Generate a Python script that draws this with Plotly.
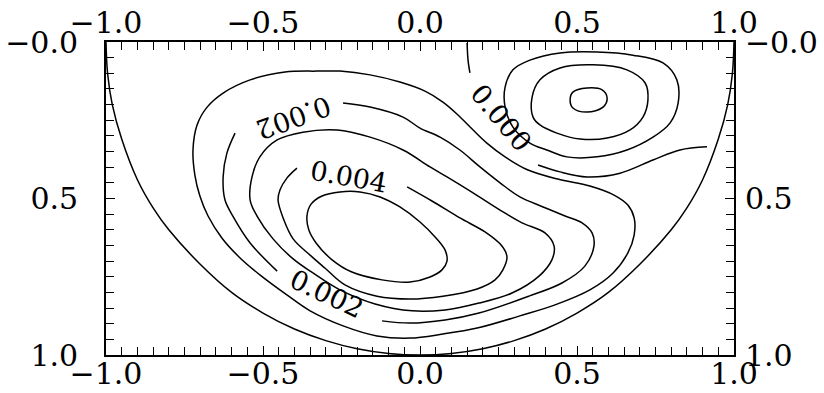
import plotly.graph_objects as go

# ---- traced contour lines (data units: x in [-1,1], depth y in [0,1]) ----
boundary_x = [-1.0, -0.995, -0.98, -0.95, -0.9, -0.85, -0.8, -0.7, -0.6, -0.5, -0.4, -0.3, -0.2, -0.1, 0.0,
              0.1, 0.2, 0.3, 0.4, 0.5, 0.6, 0.7, 0.8, 0.85, 0.9, 0.95, 0.98, 0.995, 1.0]
boundary_y = [0.0, 0.10, 0.20, 0.31, 0.44, 0.53, 0.60, 0.71, 0.80, 0.866, 0.917, 0.954, 0.980, 0.995, 1.0,
              0.995, 0.980, 0.954, 0.917, 0.866, 0.80, 0.71, 0.60, 0.53, 0.44, 0.31, 0.20, 0.10, 0.0]

# level 0.001 (closed)
c001_x = [-0.328, -0.255, -0.159, -0.064, 0.016, 0.073, 0.121, 0.166, 0.213, 0.271, 0.344, 0.439, 0.541, 0.618,
          0.662, 0.682, 0.682, 0.662, 0.615, 0.541, 0.430, 0.318, 0.182, 0.073, -0.032, -0.137, -0.245, -0.350,
          -0.424, -0.510, -0.573, -0.631, -0.675, -0.701, -0.717, -0.723, -0.710, -0.678, -0.627, -0.541, -0.430, -0.328]
c001_y = [0.093, 0.093, 0.105, 0.128, 0.157, 0.192, 0.233, 0.278, 0.323, 0.367, 0.409, 0.438, 0.460, 0.489,
          0.521, 0.562, 0.617, 0.674, 0.738, 0.792, 0.840, 0.875, 0.914, 0.933, 0.946, 0.939, 0.907, 0.859,
          0.808, 0.744, 0.690, 0.626, 0.556, 0.492, 0.425, 0.345, 0.265, 0.208, 0.163, 0.121, 0.096, 0.093]

# level 0.002 (two pieces, broken by labels)
c002a_x = [-0.245, -0.159, -0.054, 0.000, 0.064, 0.127, 0.191, 0.255, 0.318, 0.392, 0.462, 0.516, 0.548, 0.554,
           0.525, 0.452, 0.347, 0.188, 0.080, -0.032, -0.121]
c002a_y = [0.195, 0.208, 0.240, 0.275, 0.304, 0.345, 0.399, 0.450, 0.495, 0.527, 0.556, 0.578, 0.610, 0.652,
           0.716, 0.770, 0.812, 0.866, 0.888, 0.898, 0.891]
c002b_x = [-0.455, -0.541, -0.596, -0.621, -0.627, -0.615, -0.589]
c002b_y = [0.732, 0.642, 0.556, 0.505, 0.431, 0.355, 0.291]

# level 0.003 (closed)
c003_x = [-0.455, -0.510, -0.535, -0.541, -0.519, -0.468, -0.404, -0.341, -0.255, -0.143, -0.025, 0.080, 0.188,
          0.293, 0.379, 0.420, 0.427, 0.398, 0.325, 0.255, 0.169, 0.086, 0.032, -0.054, -0.159, -0.264, -0.373, -0.455]
c003_y = [0.313, 0.367, 0.431, 0.505, 0.556, 0.629, 0.693, 0.738, 0.792, 0.837, 0.859, 0.856, 0.834,
          0.802, 0.748, 0.696, 0.652, 0.610, 0.578, 0.537, 0.482, 0.431, 0.399, 0.345, 0.304, 0.281, 0.288, 0.313]

# level 0.004 (broken by label)
c004_x = [-0.041, 0.038, 0.127, 0.207, 0.261, 0.277, 0.264, 0.239, 0.182, 0.073, -0.032, -0.137, -0.239, -0.303,
          -0.350, -0.404, -0.436, -0.452, -0.446, -0.424, -0.392]
c004_y = [0.463, 0.508, 0.562, 0.607, 0.652, 0.687, 0.728, 0.760, 0.789, 0.812, 0.821, 0.812, 0.776, 0.722,
          0.681, 0.629, 0.562, 0.505, 0.473, 0.435, 0.403]

# level 0.005 (closed)
c005_x = [-0.331, -0.354, -0.360, -0.347, -0.312, -0.255, -0.191, -0.127, -0.064, 0.000, 0.051, 0.080, 0.086,
          0.070, 0.032, -0.032, -0.121, -0.217, -0.280, -0.331]
c005_y = [0.642, 0.601, 0.556, 0.518, 0.492, 0.479, 0.479, 0.495, 0.527, 0.575, 0.626, 0.665, 0.700,
          0.728, 0.751, 0.767, 0.760, 0.735, 0.696, 0.642]

# level 0.000 separatrix (broken by label)
c000a_x = [0.150, 0.153, 0.159]
c000a_y = [0.003, 0.058, 0.099]
c000b_x = [0.376, 0.446, 0.532, 0.637, 0.742, 0.828, 0.914]
c000b_y = [0.393, 0.415, 0.431, 0.419, 0.377, 0.345, 0.335]

# counter-rotating cell (closed loops)
s1_x = [0.350, 0.296, 0.271, 0.271, 0.296, 0.350, 0.446, 0.564, 0.678, 0.774, 0.818, 0.822, 0.796, 0.742,
        0.659, 0.564, 0.468, 0.404, 0.350]
s1_y = [0.323, 0.272, 0.208, 0.144, 0.089, 0.058, 0.035, 0.032, 0.042, 0.067, 0.121, 0.195, 0.259, 0.304,
        0.345, 0.367, 0.367, 0.345, 0.323]
s2_x = [0.360, 0.357, 0.382, 0.446, 0.551, 0.659, 0.717, 0.726, 0.710, 0.669, 0.596, 0.510, 0.436, 0.382, 0.360]
s2_y = [0.240, 0.176, 0.121, 0.083, 0.073, 0.089, 0.131, 0.185, 0.240, 0.281, 0.307, 0.310, 0.291, 0.265, 0.240]
s3_x = [0.478, 0.487, 0.532, 0.580, 0.596, 0.583, 0.532, 0.487, 0.478]
s3_y = [0.185, 0.160, 0.147, 0.153, 0.179, 0.208, 0.224, 0.211, 0.185]

# contour labels
label_text = ["0.002", "0.004", "0.002", "0.000"]
label_x = [-0.401, -0.229, -0.299, 0.258]
label_y = [0.243, 0.431, 0.805, 0.240]
label_angle = [160, 10, 25, 50]

# tick labels
xtick_vals = [-1.0, -0.5, 0.0, 0.5, 1.0]
xtick_text = ["\u22121.0", "\u22120.5", "0.0", "0.5", "1.0"]
ytick_vals = [0.0, 0.5, 1.0]
ytick_text = ["\u22120.0", "0.5", "1.0"]

lines = [
    (boundary_x, boundary_y), (c001_x, c001_y), (c002a_x, c002a_y), (c002b_x, c002b_y),
    (c003_x, c003_y), (c004_x, c004_y), (c005_x, c005_y), (c000a_x, c000a_y), (c000b_x, c000b_y),
    (s1_x, s1_y), (s2_x, s2_y), (s3_x, s3_y),
]

fig = go.Figure()
for lx, ly in lines:
    fig.add_trace(go.Scatter(x=lx, y=ly, mode="lines",
                             line=dict(color="black", width=1.5, shape="spline", smoothing=1.0),
                             hoverinfo="skip", showlegend=False))

# helper trace so the top/right axes exist
fig.add_trace(go.Scatter(x=[-1, 1], y=[0, 1], mode="markers", marker=dict(opacity=0),
                         xaxis="x2", yaxis="y2", hoverinfo="skip", showlegend=False))

for t, x, y, a in zip(label_text, label_x, label_y, label_angle):
    fig.add_annotation(x=x, y=y, text=t, textangle=a, showarrow=False,
                       xanchor="center", yanchor="middle",
                       font=dict(family="DejaVu Serif", size=27, color="black"))

tickfont = dict(family="DejaVu Serif", size=30, color="black")
minor = dict(tickmode="linear", tick0=0, dtick=0.05, ticks="inside", ticklen=8,
             tickwidth=1.3, tickcolor="black")

common_x = dict(range=[-1, 1], tickmode="array", tickvals=xtick_vals, ticktext=xtick_text,
                ticks="inside", ticklen=9, tickwidth=1.3, tickcolor="black", minor=minor,
                showgrid=False, zeroline=False, showline=True, linecolor="black", linewidth=1.8,
                tickfont=tickfont, automargin=False)
common_y = dict(range=[1, 0], tickmode="array", tickvals=ytick_vals, ticktext=ytick_text,
                ticks="inside", ticklen=9, tickwidth=1.3, tickcolor="black", minor=minor,
                showgrid=False, zeroline=False, showline=True, linecolor="black", linewidth=1.8,
                tickfont=tickfont, automargin=False)

fig.update_layout(
    width=824, height=393,
    margin=dict(l=106, r=90, t=42, b=38, autoexpand=False),
    paper_bgcolor="white", plot_bgcolor="white",
    xaxis=dict(**common_x, side="bottom", ticklabelstandoff=-9),
    yaxis=dict(**common_y, side="left", ticklabelstandoff=20),
    xaxis2=dict(**common_x, side="top", overlaying="x", anchor="y", ticklabelstandoff=-5),
    yaxis2=dict(**common_y, side="right", overlaying="y", anchor="x", ticklabelstandoff=3),
)

# remove the page's default body margin so the figure sits at the window's top-left corner
fig.write_html("out.html", config={"displayModeBar": False},
               post_script="document.body.style.margin='0';")
